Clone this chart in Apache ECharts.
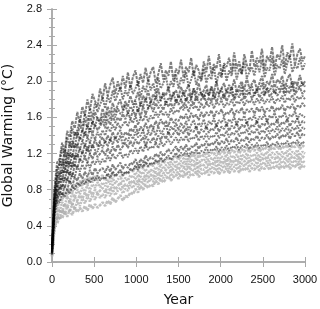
<!DOCTYPE html>
<html><head><meta charset="utf-8">
<script src="https://cdn.jsdelivr.net/npm/echarts@6/dist/echarts.min.js"></script>
<style>html,body{margin:0;padding:0;background:#fff}#c{width:320px;height:309px}</style>
</head><body><div id="c"></div>
<script>
const years = [0,30,60,90,120,150,180,210,240,270,300,330,360,390,420,450,480,510,540,570,600,630,660,690,720,750,780,810,840,870,900,930,960,990,1020,1050,1080,1110,1140,1170,1200,1230,1260,1290,1320,1350,1380,1410,1440,1470,1500,1530,1560,1590,1620,1650,1680,1710,1740,1770,1800,1830,1860,1890,1920,1950,1980,2010,2040,2070,2100,2130,2160,2190,2220,2250,2280,2310,2340,2370,2400,2430,2460,2490,2520,2550,2580,2610,2640,2670,2700,2730,2760,2790,2820,2850,2880,2910,2940,2970,3000];
const xTicks = [0,500,1000,1500,2000,2500,3000];
const yTicks = [0.0,0.4,0.8,1.2,1.6,2.0,2.4,2.8];

const b1 = [0.2,0.82,1.1,1.14,1.32,1.22,1.45,1.38,1.56,1.48, 1.66,1.54,1.72,1.62,1.8,1.68,1.86,1.78,1.72,1.92, 1.8,1.98,1.84,1.96,2.04,1.86,2.0,1.9,2.06,1.92, 2.1,1.92,2.05,2.12,1.95,2.08,1.98,2.15,2.0,2.1, 2.16,1.98,2.08,2.2,2.02,2.12,2.06,2.22,2.0,2.14, 2.08,2.24,2.04,2.16,2.1,2.26,2.06,2.18,2.12,2.02, 2.22,2.1,2.28,2.08,2.19,2.14,2.3,2.06,2.2,2.16, 2.26,2.1,2.32,2.14,2.22,2.08,2.3,2.18,2.12,2.34, 2.16,2.26,2.2,2.36,2.12,2.28,2.22,2.38,2.14,2.3, 2.24,2.4,2.16,2.32,2.26,2.42,2.18,2.3,2.36,2.22,2.28];
const b2 = [0.18,0.76,1.04,1.08,1.26,1.16,1.38,1.28,1.48,1.4, 1.46,1.58,1.5,1.64,1.56,1.7,1.6,1.76,1.66,1.74, 1.82,1.7,1.84,1.76,1.9,1.78,1.86,1.94,1.8,1.9, 1.84,1.96,1.86,1.92,2.0,1.82,1.95,1.88,2.02,1.9, 1.98,1.86,2.04,1.92,1.98,2.06,1.9,2.0,1.94,2.08, 1.92,2.04,1.98,2.1,1.94,2.02,2.12,1.96,2.06,2.0, 2.14,1.98,2.08,2.02,2.16,1.97,2.1,2.04,2.18,2.0, 2.12,2.06,2.2,2.02,2.14,2.08,2.22,2.04,2.1,2.16, 2.06,2.2,2.1,2.24,2.04,2.15,2.12,2.26,2.06,2.18, 2.14,2.24,2.08,2.2,2.28,2.1,2.18,2.14,2.26,2.12,2.2];
const b3 = [0.14,0.8,0.92,1.12,1.06,1.24,1.14,1.32,1.26,1.44, 1.38,1.52,1.44,1.58,1.48,1.62,1.52,1.66,1.58,1.56, 1.7,1.6,1.72,1.64,1.76,1.66,1.74,1.8,1.68,1.78, 1.72,1.84,1.74,1.8,1.88,1.72,1.84,1.78,1.9,1.76, 1.86,1.8,1.92,1.78,1.88,1.84,1.94,1.8,1.86,1.9, 1.82,1.94,1.84,1.9,1.96,1.8,1.92,1.86,1.98,1.84, 1.9,1.96,1.84,1.94,1.88,2.0,1.86,1.92,1.98,1.87, 1.96,1.9,2.02,1.88,1.95,2.0,1.9,2.04,1.92,1.97, 2.02,1.9,1.98,2.06,1.92,2.0,1.96,2.08,1.93,2.02, 1.98,2.06,1.92,2.02,2.08,1.94,2.0,1.96,2.07,1.95,2.0];
const b4 = [0.16,0.68,0.96,0.94,1.14,1.04,1.22,1.16,1.34,1.26, 1.44,1.36,1.46,1.4,1.52,1.44,1.56,1.5,1.6,1.52, 1.62,1.54,1.66,1.58,1.68,1.6,1.7,1.64,1.66,1.74, 1.64,1.72,1.68,1.78,1.66,1.76,1.72,1.82,1.7,1.78, 1.74,1.84,1.76,1.8,1.86,1.74,1.82,1.78,1.88,1.76, 1.84,1.8,1.9,1.78,1.86,1.82,1.92,1.79,1.85,1.88, 1.8,1.9,1.84,1.94,1.8,1.88,1.86,1.92,1.81,1.9, 1.86,1.94,1.82,1.9,1.88,1.96,1.83,1.91,1.87,1.95, 1.84,1.92,1.9,1.98,1.85,1.93,1.89,1.96,1.86,1.94, 1.9,1.98,1.87,1.95,1.92,2.0,1.88,1.96,1.93,1.99,1.94];
const b5 = [0.12,0.74,0.84,1.0,0.98,1.14,1.06,1.2,1.16,1.3, 1.28,1.38,1.34,1.44,1.38,1.48,1.42,1.52,1.46,1.5, 1.56,1.48,1.58,1.52,1.62,1.54,1.6,1.56,1.64,1.58, 1.66,1.58,1.68,1.62,1.7,1.6,1.72,1.64,1.7,1.74, 1.66,1.76,1.7,1.74,1.68,1.78,1.72,1.76,1.7,1.8, 1.74,1.8,1.72,1.82,1.76,1.8,1.74,1.84,1.76,1.8, 1.86,1.76,1.82,1.78,1.88,1.77,1.84,1.8,1.86,1.78, 1.84,1.88,1.79,1.86,1.82,1.9,1.8,1.85,1.88,1.81, 1.86,1.9,1.82,1.88,1.84,1.92,1.83,1.87,1.9,1.84, 1.88,1.92,1.84,1.9,1.87,1.94,1.85,1.9,1.93,1.86,1.9];
const b6 = [0.13,0.64,0.86,0.88,1.02,0.98,1.12,1.06,1.2,1.14, 1.3,1.24,1.34,1.28,1.38,1.32,1.42,1.36,1.44,1.38, 1.46,1.4,1.5,1.44,1.52,1.46,1.54,1.48,1.52,1.56, 1.5,1.58,1.54,1.62,1.52,1.6,1.56,1.64,1.55,1.62, 1.58,1.66,1.6,1.68,1.62,1.66,1.6,1.7,1.64,1.68, 1.66,1.72,1.68,1.74,1.66,1.75,1.7,1.73,1.67,1.76, 1.7,1.76,1.72,1.78,1.7,1.77,1.74,1.79,1.71,1.76, 1.74,1.8,1.72,1.78,1.75,1.81,1.73,1.79,1.76,1.8, 1.74,1.81,1.76,1.82,1.75,1.8,1.77,1.83,1.75,1.81, 1.78,1.84,1.76,1.82,1.79,1.85,1.77,1.83,1.8,1.84,1.8];
const b7 = [0.12,0.7,0.78,0.92,0.9,1.04,0.98,1.12,1.04,1.18, 1.16,1.26,1.2,1.3,1.22,1.32,1.26,1.36,1.28,1.34, 1.38,1.32,1.4,1.34,1.44,1.36,1.42,1.46,1.38,1.44, 1.4,1.48,1.44,1.52,1.42,1.5,1.46,1.54,1.45,1.52, 1.48,1.56,1.5,1.58,1.52,1.56,1.5,1.6,1.54,1.58, 1.56,1.62,1.58,1.64,1.56,1.65,1.6,1.63,1.57,1.66, 1.6,1.66,1.62,1.68,1.6,1.67,1.64,1.69,1.61,1.66, 1.64,1.7,1.62,1.68,1.65,1.71,1.63,1.69,1.66,1.7, 1.64,1.71,1.66,1.72,1.65,1.7,1.67,1.73,1.66,1.71, 1.68,1.74,1.67,1.72,1.7,1.75,1.68,1.73,1.71,1.76,1.72];
const b8 = [0.11,0.58,0.8,0.8,0.94,0.9,1.02,0.96,1.1,1.06, 1.2,1.12,1.22,1.16,1.28,1.2,1.3,1.24,1.22,1.32, 1.26,1.34,1.28,1.36,1.3,1.38,1.32,1.4,1.3,1.37, 1.34,1.42,1.36,1.44,1.38,1.4,1.46,1.36,1.44,1.4, 1.48,1.4,1.5,1.42,1.46,1.52,1.42,1.5,1.46,1.54, 1.46,1.54,1.48,1.56,1.46,1.52,1.57,1.48,1.54,1.5, 1.58,1.48,1.56,1.52,1.59,1.5,1.57,1.54,1.6,1.51, 1.58,1.54,1.61,1.52,1.59,1.56,1.62,1.53,1.6,1.57, 1.63,1.54,1.61,1.58,1.64,1.55,1.62,1.59,1.65,1.56, 1.62,1.6,1.66,1.57,1.63,1.61,1.67,1.58,1.64,1.62,1.6];
const b9 = [0.1,0.64,0.7,0.84,0.82,0.94,0.9,1.0,0.94,1.08, 1.04,1.14,1.1,1.16,1.1,1.2,1.14,1.22,1.16,1.2, 1.24,1.18,1.26,1.2,1.28,1.22,1.3,1.24,1.28,1.32, 1.26,1.34,1.28,1.36,1.3,1.34,1.38,1.28,1.36,1.32, 1.38,1.32,1.4,1.35,1.42,1.36,1.44,1.38,1.42,1.46, 1.4,1.46,1.42,1.48,1.4,1.46,1.44,1.5,1.41,1.47, 1.44,1.5,1.43,1.48,1.46,1.52,1.44,1.5,1.47,1.53, 1.45,1.51,1.48,1.54,1.46,1.52,1.49,1.55,1.47,1.52, 1.5,1.56,1.48,1.53,1.51,1.57,1.49,1.54,1.52,1.57, 1.5,1.55,1.53,1.58,1.5,1.56,1.54,1.59,1.51,1.56,1.54];
const b10 = [0.1,0.56,0.74,0.74,0.86,0.82,0.92,0.88,0.98,0.94, 1.06,1.0,1.08,1.02,1.1,1.04,1.12,1.08,1.14,1.08, 1.14,1.1,1.18,1.12,1.2,1.14,1.18,1.22,1.15,1.2, 1.16,1.24,1.2,1.26,1.2,1.28,1.22,1.3,1.24,1.28, 1.26,1.32,1.26,1.34,1.28,1.32,1.36,1.3,1.34,1.38, 1.32,1.38,1.34,1.4,1.33,1.38,1.36,1.41,1.34,1.4, 1.36,1.42,1.36,1.4,1.38,1.44,1.37,1.42,1.39,1.45, 1.38,1.43,1.41,1.46,1.39,1.44,1.42,1.47,1.4,1.45, 1.42,1.48,1.41,1.46,1.43,1.49,1.42,1.47,1.44,1.5, 1.43,1.48,1.45,1.5,1.43,1.49,1.46,1.51,1.44,1.49,1.47];
const b11 = [0.09,0.62,0.66,0.78,0.74,0.84,0.8,0.9,0.84,0.94, 0.9,0.98,0.92,1.0,0.94,1.02,0.96,1.04,0.98,1.02, 1.04,0.99,1.06,1.0,1.08,1.02,1.06,1.1,1.03,1.08, 1.04,1.1,1.08,1.14,1.06,1.14,1.1,1.18,1.12,1.16, 1.14,1.2,1.16,1.22,1.17,1.21,1.25,1.2,1.24,1.28, 1.22,1.28,1.24,1.3,1.23,1.28,1.27,1.32,1.25,1.3, 1.28,1.34,1.28,1.32,1.3,1.36,1.29,1.34,1.31,1.37, 1.3,1.35,1.33,1.38,1.31,1.36,1.34,1.39,1.32,1.37, 1.35,1.4,1.34,1.38,1.36,1.41,1.35,1.39,1.37,1.42, 1.36,1.41,1.38,1.43,1.36,1.42,1.39,1.44,1.37,1.42,1.4];
const b12 = [0.08,0.52,0.66,0.66,0.76,0.72,0.8,0.76,0.84,0.8, 0.88,0.84,0.9,0.86,0.92,0.88,0.94,0.9,0.96,0.9, 0.94,0.92,0.98,0.93,1.0,0.95,0.98,1.02,0.96,1.0, 0.98,1.03,1.01,1.07,1.02,1.08,1.05,1.11,1.06,1.1, 1.08,1.13,1.1,1.16,1.11,1.15,1.18,1.13,1.17,1.21, 1.16,1.21,1.18,1.23,1.17,1.22,1.2,1.25,1.19,1.23, 1.21,1.27,1.21,1.25,1.23,1.28,1.22,1.27,1.24,1.29, 1.23,1.28,1.26,1.3,1.24,1.29,1.27,1.31,1.25,1.3, 1.27,1.32,1.26,1.3,1.28,1.33,1.27,1.31,1.29,1.33, 1.28,1.32,1.3,1.34,1.28,1.33,1.31,1.35,1.29,1.33,1.31];
const g1 = [0.1,0.54,0.58,0.7,0.68,0.78,0.72,0.82,0.77,0.86, 0.82,0.9,0.84,0.92,0.86,0.94,0.88,0.95,0.9,0.94, 0.96,0.9,0.98,0.92,1.0,0.94,0.98,1.02,0.95,1.0, 0.97,1.03,1.0,1.06,1.0,1.08,1.03,1.1,1.05,1.09, 1.06,1.12,1.08,1.14,1.09,1.13,1.16,1.1,1.15,1.18, 1.13,1.18,1.14,1.2,1.13,1.19,1.16,1.21,1.15,1.19, 1.17,1.22,1.17,1.21,1.19,1.24,1.18,1.23,1.2,1.25, 1.19,1.24,1.21,1.26,1.2,1.25,1.22,1.27,1.21,1.26, 1.23,1.28,1.22,1.26,1.24,1.29,1.23,1.27,1.25,1.29, 1.24,1.28,1.26,1.3,1.24,1.29,1.27,1.31,1.25,1.29,1.27];
const g2 = [0.09,0.42,0.56,0.56,0.66,0.62,0.72,0.67,0.76,0.72, 0.8,0.75,0.82,0.78,0.85,0.8,0.86,0.82,0.88,0.83, 0.88,0.84,0.91,0.86,0.93,0.87,0.91,0.95,0.88,0.93, 0.9,0.96,0.93,0.99,0.94,1.0,0.97,1.03,0.98,1.02, 1.0,1.05,1.02,1.08,1.03,1.07,1.1,1.05,1.09,1.12, 1.07,1.12,1.09,1.14,1.08,1.13,1.11,1.15,1.09,1.13, 1.12,1.16,1.11,1.15,1.13,1.18,1.12,1.17,1.14,1.19, 1.13,1.18,1.15,1.19,1.14,1.19,1.16,1.2,1.15,1.19, 1.17,1.21,1.16,1.2,1.18,1.22,1.17,1.21,1.19,1.22, 1.18,1.22,1.19,1.23,1.18,1.22,1.2,1.24,1.18,1.22,1.2];
const g3 = [0.08,0.46,0.48,0.58,0.55,0.64,0.6,0.68,0.63,0.72, 0.68,0.74,0.7,0.77,0.72,0.79,0.74,0.8,0.76,0.79, 0.82,0.77,0.84,0.79,0.86,0.8,0.84,0.88,0.82,0.86, 0.84,0.9,0.87,0.93,0.88,0.95,0.91,0.97,0.93,0.97, 0.94,1.0,0.96,1.02,0.98,1.02,1.05,1.0,1.04,1.07, 1.02,1.07,1.04,1.09,1.03,1.08,1.06,1.1,1.04,1.08, 1.07,1.11,1.06,1.1,1.08,1.13,1.07,1.12,1.09,1.14, 1.08,1.13,1.1,1.14,1.09,1.14,1.11,1.15,1.1,1.14, 1.12,1.16,1.11,1.15,1.13,1.17,1.12,1.16,1.14,1.17, 1.13,1.17,1.14,1.18,1.13,1.17,1.15,1.19,1.13,1.17,1.15];
const g4 = [0.07,0.37,0.5,0.48,0.57,0.53,0.61,0.56,0.64,0.59, 0.67,0.62,0.7,0.65,0.72,0.67,0.74,0.69,0.76,0.71, 0.75,0.71,0.78,0.73,0.8,0.74,0.79,0.82,0.76,0.81, 0.79,0.85,0.82,0.88,0.83,0.9,0.86,0.92,0.88,0.92, 0.89,0.95,0.91,0.97,0.93,0.97,1.0,0.95,0.99,1.02, 0.97,1.02,0.99,1.04,0.98,1.03,1.01,1.05,0.99,1.03, 1.02,1.06,1.01,1.05,1.03,1.08,1.02,1.07,1.04,1.09, 1.03,1.08,1.05,1.09,1.04,1.09,1.06,1.1,1.05,1.09, 1.07,1.11,1.06,1.1,1.08,1.12,1.07,1.11,1.09,1.12, 1.08,1.12,1.09,1.13,1.08,1.12,1.1,1.14,1.08,1.12,1.1];
const g5 = [0.06,0.42,0.42,0.51,0.48,0.56,0.5,0.58,0.52,0.6, 0.55,0.6,0.56,0.62,0.57,0.64,0.59,0.64,0.6,0.63, 0.66,0.62,0.68,0.64,0.71,0.66,0.7,0.74,0.68,0.73, 0.72,0.77,0.75,0.81,0.77,0.84,0.8,0.86,0.82,0.86, 0.84,0.9,0.86,0.92,0.88,0.92,0.95,0.9,0.94,0.97, 0.92,0.97,0.94,0.99,0.93,0.98,0.96,1.0,0.94,0.98, 0.97,1.01,0.96,1.0,0.98,1.03,0.97,1.02,0.99,1.04, 0.98,1.03,1.0,1.04,0.99,1.04,1.01,1.05,1.0,1.04, 1.02,1.06,1.01,1.05,1.03,1.07,1.02,1.06,1.04,1.07, 1.03,1.07,1.04,1.08,1.03,1.07,1.05,1.09,1.03,1.07,1.05];

const blackSeries = [b1,b2,b3,b4,b5,b6,b7,b8,b9,b10,b11,b12];
const graySeries = [g1,g2,g3,g4,g5];

function mk(arr, color, dash, w) {
  return {
    type: 'line', showSymbol: false, silent: true, animation: false,
    data: arr.map((v, i) => [years[i], v]).filter(p => p[0] !== undefined),
    lineStyle: { color: color, width: w, type: dash }
  };
}
const series = [];
graySeries.forEach((s, i) => series.push(mk(s, 'rgba(170,170,170,0.75)', i % 2 ? [2, 1] : [3, 1], 2.6)));
blackSeries.forEach((s, i) => series.push(mk(s, 'rgba(0,0,0,0.5)', i % 2 ? [2, 1] : [3, 1], 2.0)));

const axisColor = '#a8a8a8';
const lbl = { color: '#111', fontFamily: 'Liberation Sans, Arial, sans-serif', fontSize: 11 };
const chart = echarts.init(document.getElementById('c'), null, { renderer: 'canvas' });
chart.setOption({
  animation: false,
  backgroundColor: '#fff',
  grid: { left: 52, right: 15, top: 9, bottom: 47, containLabel: false, outerBoundsMode: 'none' },
  xAxis: [
    { type: 'value', min: xTicks[0], max: xTicks[xTicks.length - 1], interval: 500,
      name: 'Year', nameLocation: 'middle', nameGap: 31,
      nameTextStyle: { color: '#111', fontFamily: 'DejaVu Sans', fontSize: 14 },
      axisLine: { lineStyle: { color: axisColor, width: 1.5 } },
      axisTick: { inside: false, length: 5, lineStyle: { color: axisColor, width: 1 } },
      axisLabel: Object.assign({ margin: 12, formatter: v => String(v) }, lbl),
      splitLine: { show: false } },
    { type: 'value', position: 'top', min: 0, max: 3000, interval: 500,
      axisLine: { show: true, lineStyle: { color: axisColor, width: 1.5 } },
      axisTick: { inside: false, length: 5, lineStyle: { color: axisColor } },
      axisLabel: { show: false }, splitLine: { show: false } }
  ],
  yAxis: [
    { type: 'value', min: yTicks[0], max: yTicks[yTicks.length - 1], interval: 0.4,
      name: 'Global Warming (°C)', nameLocation: 'middle', nameGap: 35,
      nameTextStyle: { color: '#111', fontFamily: 'DejaVu Sans', fontSize: 14 },
      axisLine: { show: true, lineStyle: { color: axisColor, width: 1.5 } },
      axisTick: { inside: false, length: 5, lineStyle: { color: axisColor } },
      minorTick: { show: true, splitNumber: 4, length: 3, lineStyle: { color: axisColor } },
      axisLabel: Object.assign({ margin: 10, formatter: v => v.toFixed(1) }, lbl),
      splitLine: { show: false }, minorSplitLine: { show: false } },
    { type: 'value', position: 'right', min: 0, max: 2.8, interval: 0.4,
      axisLine: { show: true, lineStyle: { color: axisColor, width: 1.5 } },
      axisTick: { inside: false, length: 5, lineStyle: { color: axisColor } },
      minorTick: { show: true, splitNumber: 4, length: 3, lineStyle: { color: axisColor } },
      axisLabel: { show: false }, splitLine: { show: false }, minorSplitLine: { show: false } }
  ],
  series: series
});
</script></body></html>
